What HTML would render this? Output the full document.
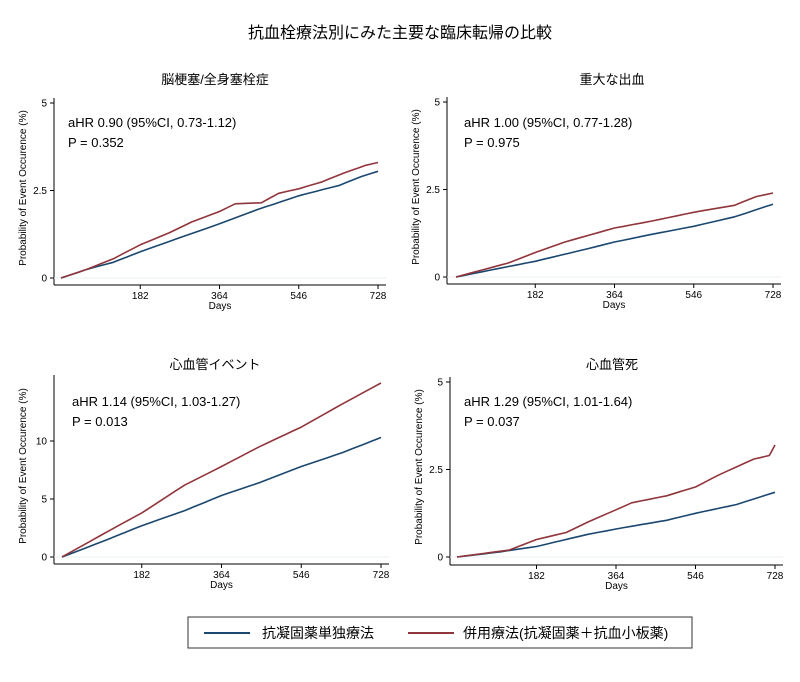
<!DOCTYPE html>
<html><head><meta charset="utf-8"><style>
html,body{margin:0;padding:0;background:#fff}
svg{display:block}
text{font-family:"Liberation Sans","Noto Sans CJK JP",sans-serif;fill:#000}
</style></head><body>
<svg id="s" width="800" height="682" viewBox="0 0 800 682" xmlns="http://www.w3.org/2000/svg">
<text x="400" y="38" font-size="16" text-anchor="middle">抗血栓療法別にみた主要な臨床転帰の比較</text>
<rect x="188" y="617" width="504" height="31" fill="none" stroke="#333" stroke-width="1"/>
<line x1="204" y1="633" x2="250" y2="633" stroke="#1a476f" stroke-width="2"/>
<text x="262" y="638" font-size="14">抗凝固薬単独療法</text>
<line x1="408" y1="633" x2="454" y2="633" stroke="#90353b" stroke-width="2"/>
<text x="463" y="638" font-size="14">併用療法(抗凝固薬＋抗血小板薬)</text>
</svg>
<script>
const s=document.getElementById('s');const NS='http://www.w3.org/2000/svg';
function el(t,a,txt){const e=document.createElementNS(NS,t);for(const k in a)e.setAttribute(k,a[k]);if(txt!==undefined)e.textContent=txt;s.appendChild(e);return e;}
const panels=[
{title:'脳梗塞/全身塞栓症',tx:215,ty:84,ax:54,x0:61,x1:378,axy:285,y0:278,ppu:35,yt:[[0,'0'],[2.5,'2.5'],[5,'5']],top:98,ann:['aHR 0.90 (95%CI, 0.73-1.12)','P = 0.352'],annx:68,anny:127,
 b:[[0,0],[60,0.25],[120,0.45],[182,0.75],[250,1.05],[364,1.55],[450,1.95],[546,2.35],[640,2.65],[690,2.9],[728,3.05]],
 r:[[0,0],[60,0.25],[120,0.55],[182,0.95],[250,1.3],[300,1.6],[364,1.9],[400,2.12],[460,2.15],[500,2.42],[546,2.55],[600,2.75],[650,3.0],[700,3.22],[728,3.3]]},
{title:'重大な出血',tx:612,ty:84,ax:447,x0:456,x1:773,axy:284,y0:277,ppu:35,yt:[[0,'0'],[2.5,'2.5'],[5,'5']],top:97,ann:['aHR 1.00 (95%CI, 0.77-1.28)','P = 0.975'],annx:464,anny:127,
 b:[[0,0],[100,0.25],[182,0.45],[300,0.8],[364,1.0],[450,1.22],[546,1.45],[640,1.72],[728,2.08]],
 r:[[0,0],[60,0.2],[120,0.4],[182,0.7],[250,1.0],[364,1.4],[450,1.6],[546,1.85],[640,2.05],[690,2.3],[728,2.4]]},
{title:'心血管イベント',tx:215,ty:369,ax:54,x0:62,x1:381,axy:564,y0:557,ppu:11.6,yt:[[0,'0'],[5,'5'],[10,'10']],top:375,ann:['aHR 1.14 (95%CI, 1.03-1.27)','P = 0.013'],annx:72,anny:406,
 b:[[0,0],[90,1.3],[182,2.7],[280,4.0],[364,5.3],[450,6.4],[546,7.8],[640,9.0],[728,10.3]],
 r:[[0,0],[90,1.9],[182,3.8],[280,6.2],[364,7.8],[450,9.5],[546,11.2],[640,13.2],[728,15.0]]},
{title:'心血管死',tx:612,ty:369,ax:450,x0:457,x1:775,axy:565,y0:557,ppu:35,yt:[[0,'0'],[2.5,'2.5'],[5,'5']],top:377,ann:['aHR 1.29 (95%CI, 1.01-1.64)','P = 0.037'],annx:464,anny:406,
 b:[[0,0],[100,0.15],[182,0.3],[300,0.65],[364,0.8],[480,1.05],[546,1.25],[640,1.5],[728,1.85]],
 r:[[0,0],[120,0.2],[182,0.5],[250,0.7],[300,1.0],[364,1.35],[400,1.55],[480,1.75],[546,2.0],[600,2.35],[680,2.8],[715,2.9],[728,3.2]]}
];
panels.forEach(p=>{
 const X=d=>p.x0+(p.x1-p.x0)*d/728, Y=v=>p.y0-v*p.ppu;
 el('text',{x:p.tx,y:p.ty,'font-size':13,'text-anchor':'middle'},p.title);
 el('line',{x1:p.ax,y1:p.top,x2:p.ax,y2:p.axy,stroke:'#000','stroke-width':1});
 el('line',{x1:p.ax,y1:p.axy,x2:p.x1+8,y2:p.axy,stroke:'#000','stroke-width':1});
 el('line',{x1:p.ax,y1:p.y0,x2:p.x1+8,y2:p.y0,stroke:'#eaf2f3','stroke-width':1});
 p.yt.forEach(([v,l])=>{el('line',{x1:p.ax-4,y1:Y(v),x2:p.ax,y2:Y(v),stroke:'#000'});el('text',{x:p.ax-7,y:Y(v)+3.5,'font-size':10,'text-anchor':'end'},l);});
 [182,364,546,728].forEach(d=>{el('line',{x1:X(d),y1:p.axy,x2:X(d),y2:p.axy+4,stroke:'#000'});el('text',{x:X(d),y:p.axy+14,'font-size':10,'text-anchor':'middle'},d);});
 el('text',{x:(p.ax+p.x1+8)/2,y:p.axy+24,'font-size':10,'text-anchor':'middle'},'Days');
 const cy=(p.top+p.y0)/2;
 el('text',{x:p.ax-28,y:cy,'font-size':10,'text-anchor':'middle',transform:`rotate(-90 ${p.ax-28} ${cy})`},'Probability of Event Occurence (%)');
 el('text',{x:p.annx,y:p.anny,'font-size':13},p.ann[0]);
 el('text',{x:p.annx,y:p.anny+20,'font-size':13},p.ann[1]);
 [['b','#1a476f'],['r','#90353b']].forEach(([k,c])=>{
  const pts=p[k];let d='M'+X(0)+','+Y(0);
  for(let i=1;i<pts.length;i++){const [a,va]=pts[i-1],[b,vb]=pts[i];const n=Math.max(2,Math.round((b-a)/20));
   for(let j=1;j<=n;j++){const t=j/n;const xx=X(a+(b-a)*t);const yy=Y(va+(vb-va)*t);d+=' L'+xx.toFixed(1)+','+yy.toFixed(1);}}
  el('path',{d:d,fill:'none',stroke:c,'stroke-width':1.6,'stroke-linejoin':'round'});
 });
});
</script>
</body></html>
